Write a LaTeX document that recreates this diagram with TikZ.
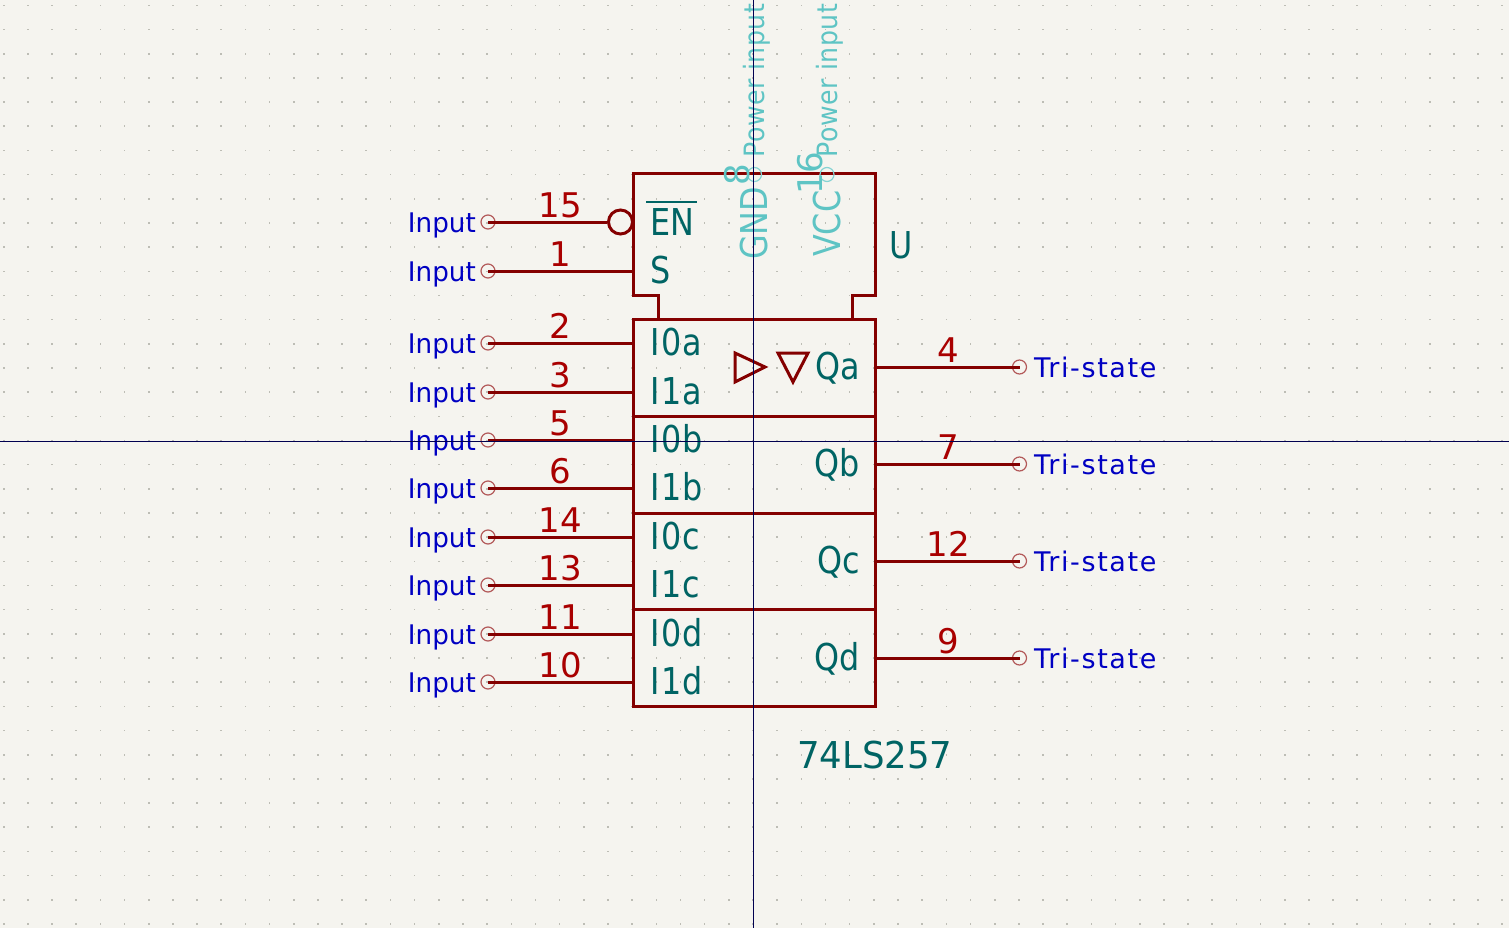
\documentclass[tikz,border=0pt]{standalone}
\usepackage{fontspec}
\setmainfont{DejaVu Sans}
\newfontfamily\typefont[FakeStretch=0.97]{DejaVu Sans}
\newfontfamily\statefont[LetterSpace=6]{DejaVu Sans}
\newfontfamily\namefont[FakeStretch=0.86]{DejaVu Sans}
\newfontfamily\leftfont[FakeStretch=0.86,LetterSpace=4]{DejaVu Sans}
\newfontfamily\partfont[FakeStretch=0.96]{DejaVu Sans}
\newfontfamily\powerfont[FakeStretch=0.9,LetterSpace=2]{DejaVu Sans}
\usetikzlibrary{positioning}
\definecolor{sheet}{HTML}{F5F4EF}
\definecolor{griddot}{HTML}{BDBDB5}
\definecolor{bodyred}{HTML}{840000}
\definecolor{numred}{HTML}{A90000}
\definecolor{nameteal}{HTML}{006464}
\definecolor{typeblue}{HTML}{0000C2}
\definecolor{hiddencyan}{HTML}{5EC4C4}
\definecolor{endred}{HTML}{B35A5A}
\definecolor{cross}{HTML}{000050}
\tikzset{
  body/.style={draw=bodyred,line width=3pt,line join=miter},
  pinline/.style={draw=bodyred,line width=3pt},
  pinend/.style={circle,draw=endred,line width=1.2pt,minimum size=14pt,inner sep=0pt},
  hiddenend/.style={circle,draw=hiddencyan!75,line width=1.2pt,minimum size=14pt,inner sep=0pt},
  pinnum/.style={text=numred,inner sep=0pt,anchor=base,font=\fontsize{34}{34}\selectfont},
  nametext/.style={text=nameteal,inner sep=0pt,font=\namefont\fontsize{37}{37}\selectfont},
  lefttext/.style={text=nameteal,inner sep=0pt,anchor=base west,font=\leftfont\fontsize{37}{37}\selectfont},
  parttext/.style={text=nameteal,inner sep=0pt,anchor=base west,font=\partfont\fontsize{37}{37}\selectfont},
  typetext/.style={text=typeblue,inner sep=0pt,font=\typefont\fontsize{27}{27}\selectfont},
  statetext/.style={text=typeblue,inner sep=0pt,font=\statefont\fontsize{27}{27}\selectfont},
  hiddentext/.style={text=hiddencyan,inner sep=0pt,rotate=90,anchor=base west,font=\namefont\fontsize{37}{37}\selectfont},
  hiddennum/.style={text=hiddencyan,inner sep=0pt,rotate=90,anchor=base,font=\fontsize{34}{34}\selectfont},
  hiddentype/.style={text=hiddencyan,inner sep=0pt,rotate=90,anchor=base west,font=\powerfont\fontsize{28}{28}\selectfont},
}
\begin{document}
\begin{tikzpicture}[x=1pt,y=-1pt,]
\newcommand\InPin[2]{
  \node [pinend] (end#1) at (488,#2) {};
  \coordinate (body#1) at (633,#2);
  \draw [pinline] (end#1.center) -- (body#1);
  \node [pinnum] (num#1) at (560,#2-4.5) {#1};
  \node [typetext,anchor=base east] (type#1) at (476,#2+10) {Input};
}
\newcommand\OutPin[2]{
  \node [pinend] (end#1) at (1019.5,#2) {};
  \coordinate (body#1) at (875,#2);
  \draw [pinline] (body#1) -- (end#1.center);
  \node [pinnum] (num#1) at (948,#2-4.5) {#1};
  \node [statetext,anchor=base west] (type#1) at (1034,#2+10) {Tri-state};
}
\newcommand\LeftName[2]{\node [lefttext] (name#1) at (650,#2+12.5) {#1};}
\newcommand\RightName[2]{\node [nametext,anchor=base east] (name#1) at (860,#2+12.5) {#1};}
\useasboundingbox (0,0) rectangle (1509,928);
\fill [sheet] (0,0) rectangle (1509,928);
\foreach \i in {-31,...,31}
  \foreach \j in {-18,...,20}
    \fill [griddot] ({753+24.17*\i-0.8},{440.5+24.17*\j-0.8}) rectangle +(1.6,1.6);

\draw [body] (658,319) -- (658,295) -- (633,295) -- (633,174) -- (875,174) -- (875,295) -- (852,295) -- (852,319);
\draw [body] (633,319) rectangle (875,706);
\draw [body] (633,416) -- (875,416);
\draw [body] (633,513) -- (875,513);
\draw [body] (633,609) -- (875,609);
\draw [body] (735,353) -- (765,367) -- (735,382) -- cycle;
\draw [body] (778,353) -- (808,353) -- (793,382) -- cycle;

\node [pinend] (end15) at (488,222) {};
\node [circle,draw=bodyred,line width=3pt,minimum size=24pt,inner sep=0pt] (invert15) at (620.5,222) {};
\draw [pinline] (end15.center) -- (invert15.west);
\node [pinnum] (num15) at (560,217.5) {15};
\node [typetext,anchor=base east] (type15) at (476,232) {Input};
\InPin{1}{271}
\InPin{2}{343}
\InPin{3}{392}
\InPin{5}{440}
\InPin{6}{488}
\InPin{14}{537}
\InPin{13}{585}
\InPin{11}{634}
\InPin{10}{682}
\OutPin{4}{367}
\OutPin{7}{464}
\OutPin{12}{561}
\OutPin{9}{658}

\node [nametext,anchor=base west] (nameEN) at (650,235) {EN};
\draw [nameteal,line width=2.6pt] (646,202) -- (697,202);
\LeftName{S}{271}
\LeftName{I0a}{343}
\LeftName{I1a}{392}
\LeftName{I0b}{440}
\LeftName{I1b}{488}
\LeftName{I0c}{537}
\LeftName{I1c}{585}
\LeftName{I0d}{634}
\LeftName{I1d}{682}
\RightName{Qa}{367}
\RightName{Qb}{464}
\RightName{Qc}{561}
\RightName{Qd}{658}
\node [nametext,anchor=base west] (refU) at (889,258) {U};
\node [parttext] (partname) at (797,768) {74LS257};

\node [hiddenend] (end8) at (754.5,174.5) {};
\node [hiddenend] (end16) at (827,174.5) {};
\node [hiddentext] (nameGND) at (767,260) {GND};
\node [hiddentext] (nameVCC) at (840,257) {VCC};
\node [hiddennum] (num8) at (749,174.5) {8};
\node [hiddennum] (num16) at (822,173) {16};
\node [hiddentype] (type8) at (764,158) {Power input};
\node [hiddentype] (type16) at (837,158) {Power input};

\coordinate (crosstop) at (753.3,0);
\coordinate (crossbot) at (753.3,928);
\coordinate (crossleft) at (0,441.3);
\coordinate (crossright) at (1509,441.3);
\draw [cross,line width=1pt] (crosstop) -- (crossbot);
\draw [cross,line width=1pt] (crossleft) -- (crossright);
\end{tikzpicture}
\end{document}
